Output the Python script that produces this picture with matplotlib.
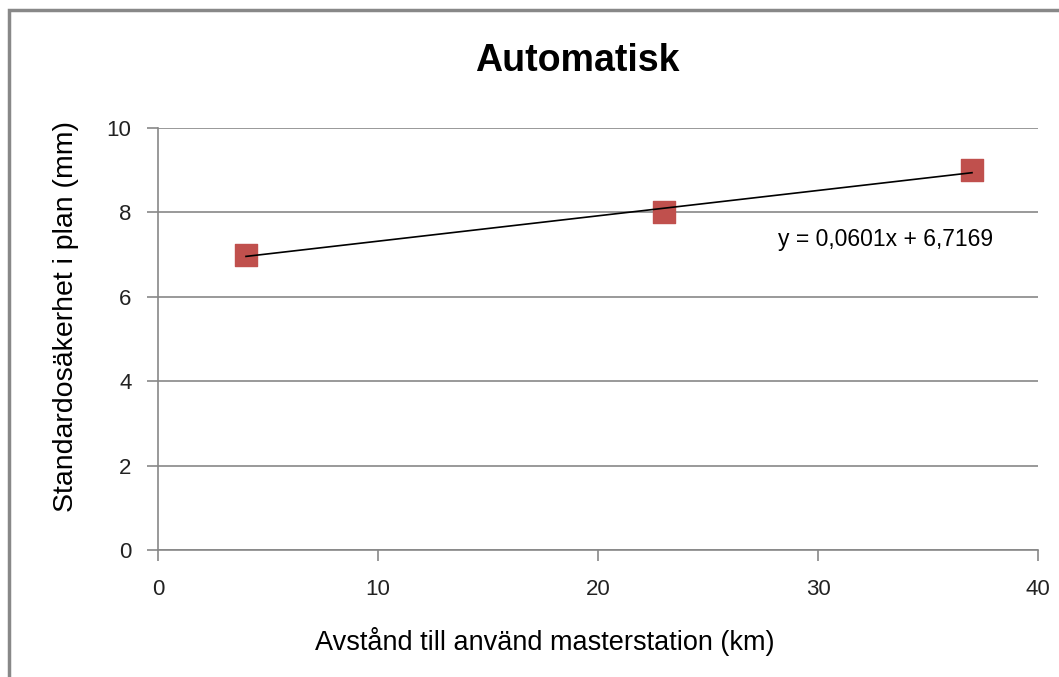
import matplotlib

matplotlib.use("Agg")
matplotlib.rc("font", **{"family": "sans-serif", "sans-serif": ["Liberation Sans", "DejaVu Sans"]})

import matplotlib.pyplot as plt
from matplotlib.patches import Rectangle

# data
distance_km = [4, 23, 37]
std_plan_mm = [7, 8, 9]
slope = 0.0601
intercept = 6.7169
x_ticks = [0, 10, 20, 30, 40]
y_ticks = [0, 2, 4, 6, 8, 10]

title = "Automatisk"
x_label = "Avstånd till använd masterstation (km)"
y_label = "Standardosäkerhet i plan (mm)"
equation = "y = 0,0601x + 6,7169"

grey = "#878787"

fig = plt.figure(figsize=(10.59, 6.77), dpi=100)
ax = fig.add_axes([158 / 1059, 1 - 550 / 677, 880 / 1059, 422 / 677])

ax.scatter(distance_km, std_plan_mm, marker="s", s=230, color="#C0504D",
           edgecolors="#C0504D", zorder=3)

trend_x = [min(distance_km), max(distance_km)]
trend_y = [slope * v + intercept for v in trend_x]
ax.plot(trend_x, trend_y, color="black", lw=1.2, zorder=4)

ax.text(37.95, 7.35, equation, fontsize=16.5, ha="right", va="center")

ax.set_xlim(0, 40)
ax.set_ylim(0, 10)
ax.set_xticks(x_ticks)
ax.set_yticks(y_ticks)
ax.yaxis.grid(True, color=grey, lw=1.2)
ax.set_axisbelow(True)

for side in ["top", "right"]:
    ax.spines[side].set_visible(False)
for side in ["left", "bottom"]:
    ax.spines[side].set_color(grey)
    ax.spines[side].set_linewidth(1.2)

ax.tick_params(axis="both", direction="out", length=8, width=1.2, color=grey,
               labelsize=16, labelcolor="#222222")
ax.tick_params(axis="x", pad=13)
ax.tick_params(axis="y", pad=11)

fig.text(577 / 1059, 1 - 61 / 677, title, fontsize=27, fontweight="bold",
         ha="center", va="center")
fig.text(545 / 1059, 1 - 642 / 677, x_label, fontsize=19.5, ha="center", va="center")
fig.text(66 / 1059, 1 - 316 / 677, y_label, fontsize=20.5, ha="center", va="center",
         rotation=90)

fig.patches.append(Rectangle((9 / 1059, -0.1), 1.2, 1 - 10 / 677 + 0.1,
                             transform=fig.transFigure, fill=False,
                             edgecolor="#888888", lw=2.5))

fig.savefig("out.png", dpi=100)
